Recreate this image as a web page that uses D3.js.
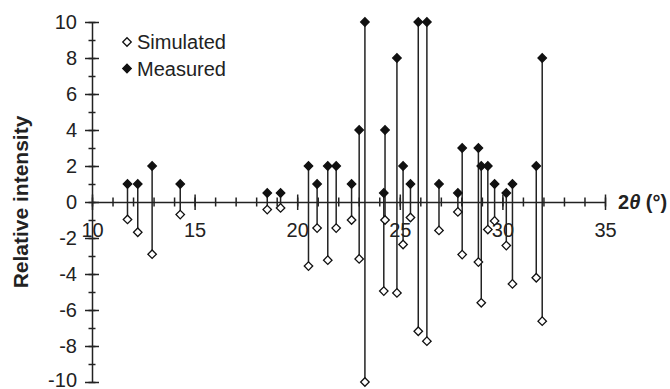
<!DOCTYPE html>
<html>
<head>
<meta charset="utf-8">
<title>Relative intensity vs 2theta</title>
<script src="https://cdnjs.cloudflare.com/ajax/libs/d3/7.8.5/d3.min.js"></script>
<style>
body
{
  margin: 0;
  background: #fff;
}

svg
{
  display: block;
  font-family: "Liberation Sans", Arial, sans-serif;
}

.axis path, .axis line
{
  stroke: #222;
  stroke-width: 1.5px;
}

.axis text
{
  font-size: 20px;
  fill: #222;
}

line.stem
{
  stroke: #222;
  stroke-width: 1.5px;
}
</style>
</head>
<body>
<div id="chart"></div>
<script>
// peak positions (2theta, degrees) and intensities
var twoTheta = [11.73, 12.23, 12.93, 14.30, 18.54, 19.19, 20.55, 20.97, 21.49, 21.90,
  22.65, 23.02, 23.30, 24.22, 24.28, 24.86, 25.16, 25.52, 25.90, 26.32,
  26.91, 27.83, 28.04, 28.83, 28.97, 29.29, 29.62, 30.19, 30.49, 31.65, 31.94];
var measured = [1, 1, 2, 1, 0.5, 0.5, 2, 1, 2, 2,
  1, 4, 10, 0.5, 4, 8, 2, 1, 10, 10,
  1, 0.5, 3, 3, 2, 2, 1, 0.5, 1, 2, 8];
var simulated = [-0.97, -1.68, -2.9, -0.7, -0.42, -0.33, -3.56, -1.45, -3.23, -1.45,
  -1.0, -3.16, -10, -4.95, -1.0, -5.05, -2.36, -0.86, -7.18, -7.73,
  -1.58, -0.55, -2.92, -3.34, -5.6, -1.53, -1.05, -2.42, -4.55, -4.21, -6.62];

var xTicks = [10, 15, 20, 25, 30, 35];
var yTicks = [-10, -8, -6, -4, -2, 0, 2, 4, 6, 8, 10];
var seriesNames = ["Simulated", "Measured"];

var width = 670, height = 389;

var svg = d3.select("#chart").append("svg")
  .attr("width", width)
  .attr("height", height);

var x = d3.scaleLinear().domain([10, 35]).range([92, 605]);
var y = d3.scaleLinear().domain([-10, 10]).range([382, 22]);

var diamond = d3.symbol().type(d3.symbolSquare).size(36);

// minor ticks, crossing the axes
svg.append("g")
  .attr("class", "axis")
  .attr("transform", "translate(0," + y(0) + ")")
  .call(d3.axisBottom(x).tickValues(d3.range(10, 36)).tickFormat("").tickSizeOuter(0))
  .call(function(g) { g.select(".domain").remove(); })
  .call(function(g) { g.selectAll(".tick line").attr("y1", -4.5).attr("y2", 4.5); });

svg.append("g")
  .attr("class", "axis")
  .attr("transform", "translate(" + x(10) + ",0)")
  .call(d3.axisLeft(y).tickValues(d3.range(-10, 11)).tickFormat("").tickSizeOuter(0))
  .call(function(g) { g.select(".domain").remove(); })
  .call(function(g) { g.selectAll(".tick line").attr("x1", -3.5).attr("x2", 3.5); });

// major ticks and labels
var xAxis = svg.append("g")
  .attr("class", "axis")
  .attr("transform", "translate(0," + y(0) + ")")
  .call(d3.axisBottom(x).tickValues(xTicks).tickSizeOuter(0));
xAxis.selectAll(".tick line").attr("y1", -7.5).attr("y2", 8);
xAxis.selectAll(".tick text").attr("y", 35).attr("dy", 0);

var yAxis = svg.append("g")
  .attr("class", "axis")
  .attr("transform", "translate(" + x(10) + ",0)")
  .call(d3.axisLeft(y).tickValues(yTicks).tickSizeOuter(0)
    .tickFormat(function(d) { return String(d); }));   // plain hyphen, like the original
yAxis.selectAll(".tick line").attr("x1", -7).attr("x2", 7);
yAxis.selectAll(".tick text").attr("x", -15)
  .attr("dy", function(d) { return d === -10 ? "0.22em" : "0.34em"; });   // keep the bottom label inside

// stems
var idx = d3.range(twoTheta.length);
svg.append("g").selectAll("line.stem")
  .data(idx).enter().append("line")
  .attr("class", "stem")
  .attr("x1", function(i) { return x(twoTheta[i]); })
  .attr("x2", function(i) { return x(twoTheta[i]); })
  .attr("y1", function(i) { return y(measured[i]); })
  .attr("y2", function(i) { return y(simulated[i]); });

svg.append("g").selectAll("path")
  .data(idx).enter().append("path")
  .attr("d", diamond)
  .attr("transform", function(i) { return "translate(" + x(twoTheta[i]) + "," + y(simulated[i]) + ") rotate(45)"; })
  .attr("fill", "#fff")
  .attr("stroke", "#111")
  .attr("stroke-width", 1.3);

svg.append("g").selectAll("path")
  .data(idx).enter().append("path")
  .attr("d", diamond)
  .attr("transform", function(i) { return "translate(" + x(twoTheta[i]) + "," + y(measured[i]) + ") rotate(45)"; })
  .attr("fill", "#111")
  .attr("stroke", "#111")
  .attr("stroke-width", 1.3);

// legend
var legend = svg.append("g").attr("transform", "translate(127,42)");
seriesNames.forEach(function(name, k) {
  var row = legend.append("g").attr("transform", "translate(0," + (k * 26.5) + ")");
  row.append("path")
    .attr("d", diamond)
    .attr("transform", "rotate(45)")
    .attr("fill", k === 0 ? "#fff" : "#111")
    .attr("stroke", "#111")
    .attr("stroke-width", 1.3);
  row.append("text")
    .attr("x", 10)
    .attr("y", 7)
    .attr("font-size", 20)
    .attr("fill", "#222")
    .text(name);
});

// axis titles
var xTitle = svg.append("text")
  .attr("x", 618)
  .attr("y", y(0) + 7)
  .attr("font-size", 20)
  .attr("font-weight", "bold")
  .attr("fill", "#222");
xTitle.append("tspan").text("2");
xTitle.append("tspan").attr("font-style", "italic").text("θ");
xTitle.append("tspan").text(" (°)");

svg.append("text")
  .attr("transform", "translate(28," + y(0) + ") rotate(-90)")
  .attr("text-anchor", "middle")
  .attr("font-size", 21)
  .attr("font-weight", "bold")
  .attr("fill", "#222")
  .text("Relative intensity");
</script>
</body>
</html>
